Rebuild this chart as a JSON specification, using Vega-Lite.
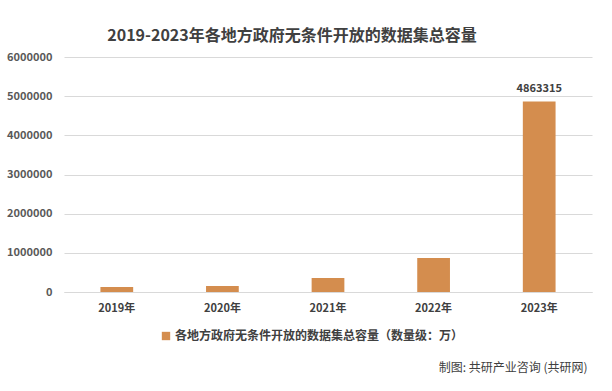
{
  "$schema": "https://vega.github.io/schema/vega-lite/v6.json",
  "width": 528,
  "height": 235,
  "autosize": {"type": "none"},
  "padding": {"left": 64, "top": 57, "right": 20, "bottom": 99},
  "background": "white",
  "config": {
    "font": "Noto Sans CJK SC",
    "view": {"stroke": null}
  },
  "title": {
    "text": "2019-2023年各地方政府无条件开放的数据集总容量",
    "anchor": "middle",
    "dx": -36,
    "offset": 7,
    "fontSize": 16,
    "font": "Noto Sans CJK SC",
    "fontWeight": "bold",
    "color": "#404040"
  },
  "data": {
    "values": [
      {"year": "2019年", "value": 130000, "series": "各地方政府无条件开放的数据集总容量（数量级：万）", "label": ""},
      {"year": "2020年", "value": 155000, "series": "各地方政府无条件开放的数据集总容量（数量级：万）", "label": ""},
      {"year": "2021年", "value": 360000, "series": "各地方政府无条件开放的数据集总容量（数量级：万）", "label": ""},
      {"year": "2022年", "value": 870000, "series": "各地方政府无条件开放的数据集总容量（数量级：万）", "label": ""},
      {"year": "2023年", "value": 4863315, "series": "各地方政府无条件开放的数据集总容量（数量级：万）", "label": "4863315"}
    ]
  },
  "encoding": {
    "x": {
      "field": "year",
      "type": "ordinal",
      "scale": {"paddingInner": 0.69, "paddingOuter": 0.345},
      "axis": {
        "labelAngle": 0,
        "labelFontSize": 11,
        "labelFontWeight": "bold",
        "labelColor": "#404040",
        "labelPadding": 10,
        "ticks": false,
        "domainColor": "#D9D9D9",
        "title": "制图: 共研产业咨询 (共研网)",
        "titleFontSize": 12,
        "titleFontWeight": "normal",
        "titleColor": "#404040",
        "titleAnchor": "end",
        "titleAlign": "right",
        "titleX": 523,
        "titleY": 75,
        "titleBaseline": "middle"
      }
    },
    "y": {
      "field": "value",
      "type": "quantitative",
      "scale": {"domain": [0, 6000000]},
      "axis": {
        "values": [0, 1000000, 2000000, 3000000, 4000000, 5000000, 6000000],
        "format": "d",
        "labelFontSize": 11,
        "labelFontWeight": "bold",
        "labelColor": "#595959",
        "labelPadding": 12,
        "gridColor": "#D9D9D9",
        "domain": false,
        "ticks": false,
        "title": null
      }
    }
  },
  "layer": [
    {
      "mark": {"type": "bar", "color": "#D48D4E"},
      "encoding": {
        "color": {
          "field": "series",
          "type": "nominal",
          "scale": {"range": ["#D48D4E"]},
          "legend": {
            "title": null,
            "orient": "none",
            "legendX": 96,
            "legendY": 273,
            "symbolType": "square",
            "symbolSize": 70,
            "symbolOffset": 0,
            "labelOffset": 3,
            "labelFontSize": 12,
            "labelFontWeight": "bold",
            "labelColor": "#404040",
            "labelLimit": 400
          }
        }
      }
    },
    {
      "mark": {"type": "text", "baseline": "bottom", "dy": -8, "fontSize": 11, "fontWeight": "bold", "color": "#404040"},
      "encoding": {"text": {"field": "label"}}
    }
  ]
}
